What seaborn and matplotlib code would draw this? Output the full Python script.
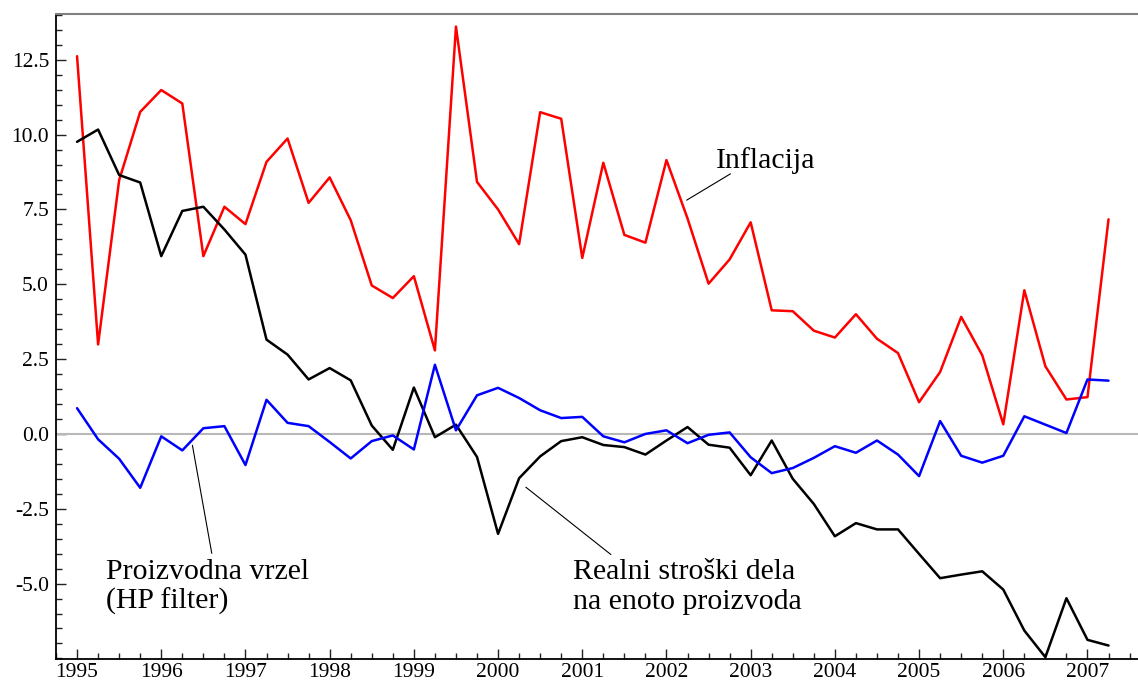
import numpy as np
import pandas as pd
import matplotlib
matplotlib.use("Agg")
import matplotlib.pyplot as plt
import seaborn as sns
from matplotlib.ticker import MultipleLocator, FixedLocator, FuncFormatter

# quarterly data, 1995Q1 - 2007Q2
quarters = pd.period_range("1995Q1", "2007Q2", freq="Q")

inflacija = [12.62, 2.99, 8.48, 10.76, 11.49, 11.04, 5.94, 7.59, 7.01, 9.09,
             9.87, 7.72, 8.57, 7.14, 4.96, 4.54, 5.27, 2.79, 13.61, 8.42,
             7.50, 6.34, 10.75, 10.53, 5.88, 9.06, 6.65, 6.39, 9.15, 7.20,
             5.02, 5.83, 7.07, 4.13, 4.10, 3.45, 3.22, 4.00, 3.18, 2.70,
             1.06, 2.07, 3.91, 2.63, 0.32, 4.80, 2.26, 1.15, 1.23, 7.17]

stroski_dela = [9.76, 10.17, 8.65, 8.40, 5.94, 7.45, 7.59, 6.83, 5.99, 3.15,
                2.65, 1.82, 2.20, 1.79, 0.28, -0.53, 1.55, -0.11, 0.31, -0.77,
                -3.34, -1.48, -0.75, -0.24, -0.11, -0.37, -0.44, -0.69, -0.22, 0.23,
                -0.36, -0.46, -1.38, -0.22, -1.50, -2.34, -3.42, -2.98, -3.19, -3.19,
                -4.01, -4.82, -4.70, -4.59, -5.20, -6.57, -7.46, -5.49, -6.88, -7.07]

vrzel = [0.86, -0.18, -0.83, -1.80, -0.08, -0.55, 0.19, 0.26, -1.04, 1.14,
         0.37, 0.26, -0.27, -0.82, -0.24, -0.05, -0.52, 2.31, 0.12, 1.29,
         1.54, 1.20, 0.79, 0.53, 0.57, -0.08, -0.28, 0.00, 0.12, -0.31,
         -0.03, 0.05, -0.78, -1.31, -1.14, -0.80, -0.41, -0.63, -0.22, -0.69,
         -1.41, 0.43, -0.73, -0.96, -0.73, 0.59, 0.31, 0.03, 1.82, 1.78]

years = list(range(1995, 2008))
yticks = [-5.0, -2.5, 0.0, 2.5, 5.0, 7.5, 10.0, 12.5]

df = pd.DataFrame({
    "t": [p.year + (p.quarter - 1) / 4 for p in quarters],
    "inflacija": inflacija,
    "stroski": stroski_dela,
    "vrzel": vrzel,
})

sns.set_style("ticks")
plt.rcParams["font.family"] = ["Liberation Serif", "DejaVu Serif"]
plt.rcParams["text.color"] = "black"

fig = plt.figure(figsize=(11.38, 6.84), dpi=100)
ax = fig.add_axes([56 / 1138, 1 - 658.7 / 684, 1 - 56 / 1138, (658.7 - 14) / 684])

ax.axhline(0, color="#b8b8b8", lw=1.5, zorder=1)
sns.lineplot(data=df, x="t", y="inflacija", color="#ff0000", lw=1.8, ax=ax)
sns.lineplot(data=df, x="t", y="stroski", color="black", lw=1.8, ax=ax)
sns.lineplot(data=df, x="t", y="vrzel", color="#0000ff", lw=1.8, ax=ax)

ax.set_xlim(1994.75, 2007.6)
ax.set_ylim(-7.51, 14.03)
ax.set_xlabel("")
ax.set_ylabel("")

ax.xaxis.set_major_locator(FixedLocator(years))
ax.xaxis.set_minor_locator(MultipleLocator(0.25))
ax.yaxis.set_major_locator(FixedLocator(yticks))
ax.yaxis.set_minor_locator(MultipleLocator(0.5))
ax.xaxis.set_major_formatter(FuncFormatter(lambda v, p: f"{int(round(v))}"))
ax.yaxis.set_major_formatter(FuncFormatter(lambda v, p: f"{v:.1f}"))

ax.tick_params(axis="both", which="both", direction="in", width=1, color="#222222",
               labelsize=15.5, labelcolor="black")
ax.tick_params(axis="both", which="major", length=7)
ax.tick_params(axis="both", which="minor", length=4)
ax.tick_params(axis="x", pad=3)
ax.tick_params(axis="y", pad=5)

for s in ["left", "bottom"]:
    ax.spines[s].set_color("black")
    ax.spines[s].set_linewidth(1.3)
ax.spines["top"].set_color("#808080")
ax.spines["top"].set_linewidth(1.5)
ax.spines["right"].set_visible(False)

# labels with leader lines
fs = 21.5
line_kw = dict(arrowprops=dict(arrowstyle="-", color="black", lw=0.8,
                               shrinkA=0, shrinkB=0))
ax.annotate("", xy=(2002.24, 7.81), xytext=(2002.76, 8.69), **line_kw)
ax.text(2002.59, 8.90, "Inflacija", fontsize=fs, ha="left", va="baseline")

ax.annotate("", xy=(1996.37, -0.38), xytext=(1996.60, -3.99), **line_kw)
ax.text(1995.34, -4.85, "Proizvodna vrzel", fontsize=fs, ha="left", va="baseline")
ax.text(1995.34, -5.85, "(HP filter)", fontsize=fs, ha="left", va="baseline")

ax.annotate("", xy=(2000.33, -1.78), xytext=(2001.34, -4.03), **line_kw)
ax.text(2000.89, -4.85, "Realni stroški dela", fontsize=fs, ha="left", va="baseline")
ax.text(2000.89, -5.85, "na enoto proizvoda", fontsize=fs, ha="left", va="baseline")

fig.savefig("out.png", dpi=100)
